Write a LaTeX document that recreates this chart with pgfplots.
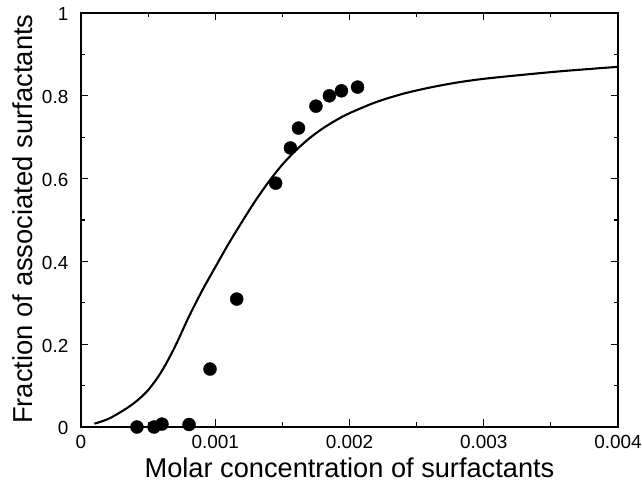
\documentclass[border=0pt]{standalone}
\usepackage{fontspec}
\setmainfont{Liberation Sans}
\usepackage{pgfplots}
\pgfplotsset{compat=1.18}

\begin{document}
\begin{tikzpicture}
\begin{axis}[
  scale only axis, width=537bp, height=414bp,
  xmin=0, xmax=0.004, ymin=0, ymax=1,
  xtick={0,0.001,0.002,0.003,0.004},
  xticklabels={0,0.001,0.002,0.003,0.004},
  ytick={0,0.2,0.4,0.6,0.8,1},
  yticklabels={0,0.2,0.4,0.6,0.8,1},
  minor x tick num=1, minor y tick num=1,
  scaled x ticks=false,
  tick align=inside,
  major tick length=7.5bp, minor tick length=4.5bp,
  every tick/.style={black, line width=1.2pt},
  axis line style={line width=1.7pt},
  tick label style={font=\fontsize{19}{19}\selectfont, inner sep=0pt},
  xticklabel style={anchor=base, yshift=-21bp},
  yticklabel style={anchor=east, xshift=-12.5bp, yshift=-1.4bp},
  xlabel={Molar concentration of surfactants},
  ylabel={Fraction of associated surfactants},
  xlabel style={font=\fontsize{27.3}{27.3}\selectfont, at={(axis description cs:0.5,0)}, anchor=base, yshift=-50bp, inner sep=0pt},
  ylabel style={font=\fontsize{27.5}{27.5}\selectfont, at={(axis description cs:-0.0912,0.502)}, anchor=base, inner sep=0pt},
]
\addplot[black, line width=2.1pt, smooth, no marks] coordinates {
  (0.0001,0.008) (0.0002,0.019) (0.0003,0.037) (0.0004,0.059)
  (0.0005,0.089) (0.0006,0.134) (0.0007,0.194) (0.0008,0.264)
  (0.0009,0.328) (0.001,0.386) (0.0011,0.443) (0.0012,0.496)
  (0.0013,0.547) (0.0014,0.593) (0.0015,0.634) (0.0016,0.668)
  (0.0017,0.697) (0.0018,0.721) (0.0019,0.741) (0.002,0.758)
  (0.0022,0.785) (0.0024,0.805) (0.0026,0.82) (0.0028,0.832)
  (0.003,0.841) (0.0033,0.851) (0.0036,0.86) (0.004,0.87)
};
\addplot[only marks, mark=*, mark size=6.5bp, black] coordinates {
  (0.000417,0) (0.000544,0) (0.000603,0.007) (0.000805,0.006)
  (0.000961,0.14) (0.00116,0.309) (0.00145,0.589) (0.00156,0.674)
  (0.00162,0.722) (0.00175,0.775) (0.00185,0.80) (0.00194,0.812)
  (0.00206,0.821)
};
\end{axis}
\pgfresetboundingbox
\path (-81bp,-58bp) rectangle (561bp,427bp);
\end{tikzpicture}
\end{document}
